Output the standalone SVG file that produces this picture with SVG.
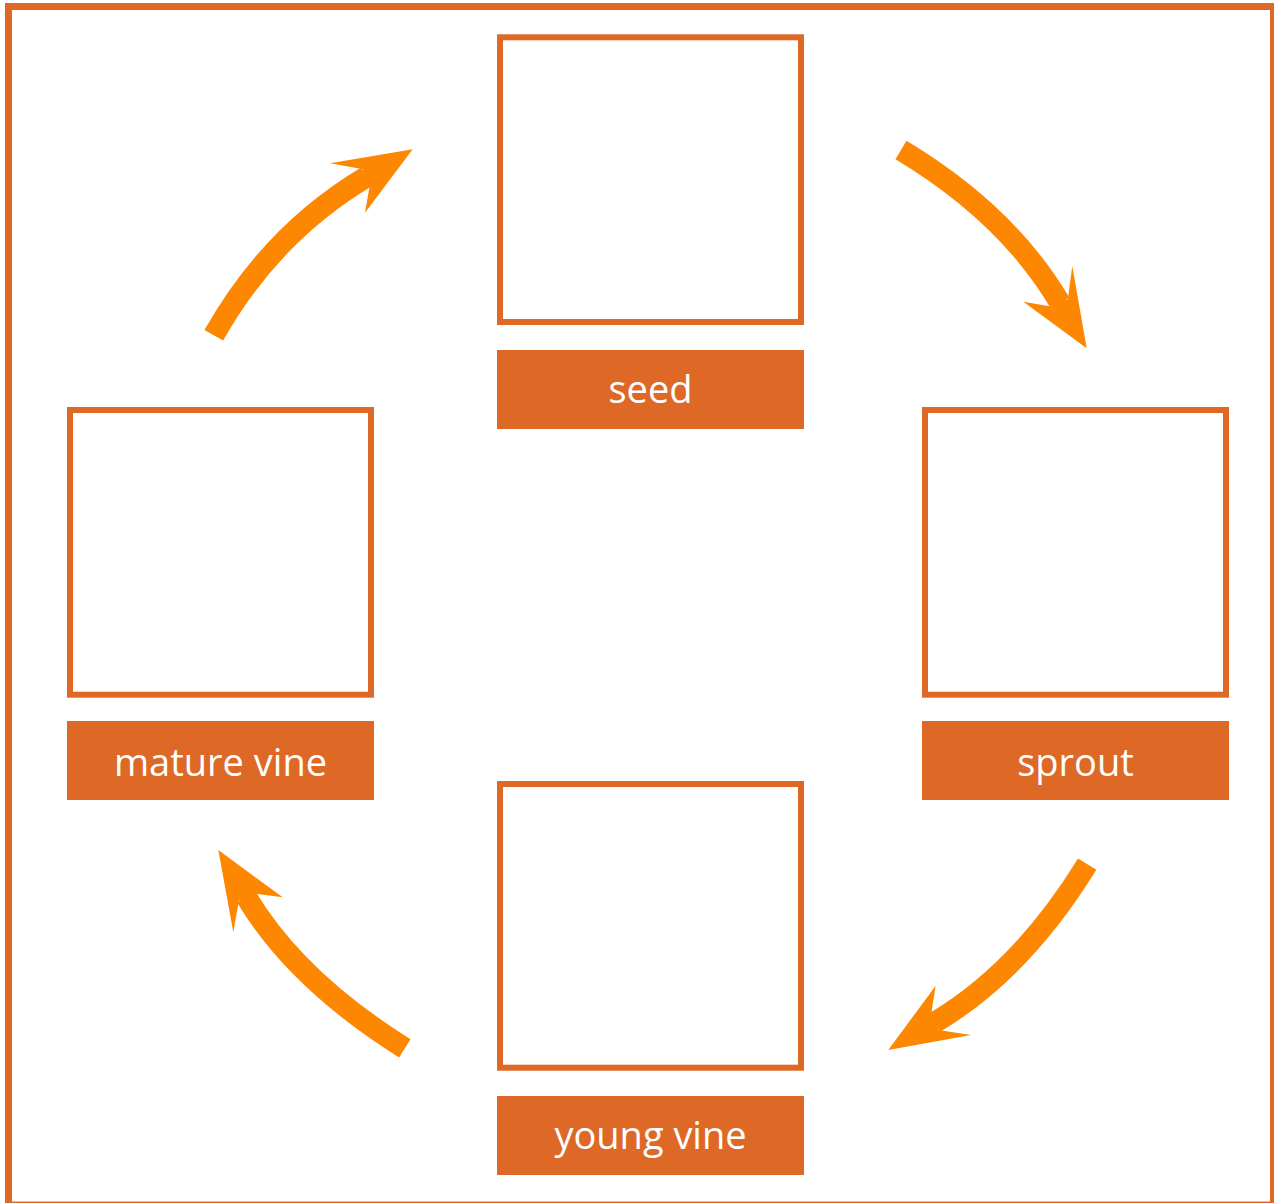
<svg xmlns="http://www.w3.org/2000/svg" width="1274" height="1203" viewBox="0 0 1274 1203">
  <style>
    .frame { fill: #FFFFFF; stroke: #DE6826; stroke-width: 7; }
    .box { fill: #FFFFFF; stroke: #DE6826; stroke-width: 6; }
    .label { fill: #DE6826; }
    .txt { fill: #FFFFFF; font-family: "Open Sans", "Liberation Sans", sans-serif; font-size: 38px; text-anchor: middle; }
    .shaft { fill: none; stroke: #FD8700; stroke-width: 21.5; stroke-linecap: butt; }
    .head { fill: #FD8700; stroke: none; }
  </style>
  <rect class="frame" x="8.5" y="6.5" width="1265" height="1198.5"/>

  <g id="node-seed">
    <rect class="box" x="500" y="37.3" width="301" height="284.7"/>
    <rect class="label" x="497" y="350" width="307" height="79"/>
    <text class="txt" x="650.5" y="402.7">seed</text>
  </g>
  <g id="node-sprout">
    <rect class="box" x="925" y="410" width="301" height="284.7"/>
    <rect class="label" x="922" y="721" width="307" height="79"/>
    <text class="txt" x="1075.5" y="775.7">sprout</text>
  </g>
  <g id="node-young-vine">
    <rect class="box" x="500" y="784" width="301" height="283.7"/>
    <rect class="label" x="497" y="1096" width="307" height="79"/>
    <text class="txt" x="650.5" y="1149">young vine</text>
  </g>
  <g id="node-mature-vine">
    <rect class="box" x="70" y="410" width="301" height="284.7"/>
    <rect class="label" x="67" y="721" width="307" height="79"/>
    <text class="txt" x="220.5" y="775.7">mature vine</text>
  </g>

  <g id="connectors">
    <g id="seed-to-sprout">
      <path class="shaft" d="M901,150 Q1007.7,214.1 1060,303"/>
      <polygon class="head" points="1086.7,348.3 1023.3,301.7 1052.7,306.7 1053.9,292.7 1067.7,300 1072.3,266"/>
    </g>
    <g id="sprout-to-young-vine">
      <path class="shaft" d="M1087.2,864.2 Q1021.3,971.2 934.7,1022.5"/>
      <polygon class="head" points="888.3,1050 971,1035 938.3,1030 945,1016.4 931,1015 935.7,985.7"/>
    </g>
    <g id="young-vine-to-mature-vine">
      <path class="shaft" d="M404.8,1048.3 Q296.1,980.3 246.2,896.7"/>
      <polygon class="head" points="218.3,850 282.7,897.3 253.3,893.3 252.4,907 239,900 233.3,932.3"/>
    </g>
    <g id="mature-vine-to-seed">
      <path class="shaft" d="M213.8,335.3 Q271,233.7 366.7,176.7"/>
      <polygon class="head" points="412.7,149.3 330,163.3 363.3,169.3 356.4,182.8 370,184 365,212.7"/>
    </g>
  </g>
</svg>
